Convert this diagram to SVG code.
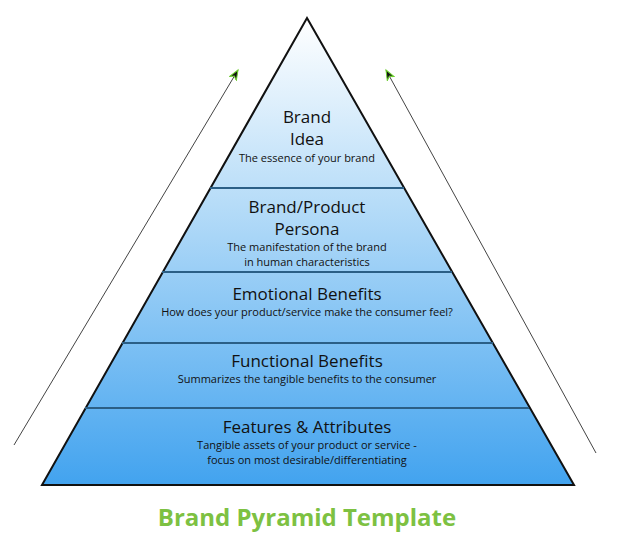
<svg xmlns="http://www.w3.org/2000/svg" width="620" height="541" viewBox="0 0 620 541">
<defs>
<linearGradient id="g" x1="0" y1="18" x2="0" y2="485" gradientUnits="userSpaceOnUse">
<stop offset="0" stop-color="#ffffff"/>
<stop offset="0.4" stop-color="#b6dcf8"/>
<stop offset="1" stop-color="#42a3ef"/>
</linearGradient>
<marker id="ah" markerWidth="12" markerHeight="12" refX="10" refY="5" orient="auto" markerUnits="userSpaceOnUse">
<path d="M0,1 L10,5 L0,9 L3,5 Z" fill="#111" stroke="#6ccf2e" stroke-width="1"/>
</marker>
<style>
text{font-family:"Open Sans","Noto Sans",sans-serif;fill:#111;text-anchor:middle}
.h{font-size:17px}
.s{font-size:11px}
.sep{stroke:#2b5f86;stroke-width:2}
</style>
</defs>
<g id="connectors">
<line x1="14" y1="445" x2="238" y2="70" stroke="#444" stroke-width="1" marker-end="url(#ah)"/>
<line x1="596" y1="453" x2="386" y2="70" stroke="#444" stroke-width="1" marker-end="url(#ah)"/>
</g>
<g id="pyramid">
<polygon points="307,18 574,485 42,485" fill="url(#g)" stroke="#111" stroke-width="2"/>
<line class="sep" x1="210" y1="188" x2="404" y2="188"/>
<line class="sep" x1="162" y1="272" x2="452" y2="272"/>
<line class="sep" x1="122" y1="343" x2="493" y2="343"/>
<line class="sep" x1="85" y1="408" x2="529" y2="408"/>
</g>
<g id="n1"><text class="h" x="307" y="123">Brand</text><text class="h" x="307" y="145">Idea</text><text class="s" x="307" y="162">The essence of your brand</text></g>
<g id="n2"><text class="h" x="307" y="213">Brand/Product</text><text class="h" x="307" y="235">Persona</text><text class="s" x="307" y="251">The manifestation of the brand</text><text class="s" x="307" y="266">in human characteristics</text></g>
<g id="n3"><text class="h" x="307" y="300">Emotional Benefits</text><text class="s" x="307" y="316">How does your product/service make the consumer feel?</text></g>
<g id="n4"><text class="h" x="307" y="367">Functional Benefits</text><text class="s" x="307" y="383">Summarizes the tangible benefits to the consumer</text></g>
<g id="n5"><text class="h" x="307" y="433">Features &amp; Attributes</text><text class="s" x="307" y="449">Tangible assets of your product or service -</text><text class="s" x="307" y="464">focus on most desirable/differentiating</text></g>
<text x="307" y="526" style="font-size:24px;font-weight:bold;fill:#7dc142">Brand Pyramid Template</text>
</svg>
